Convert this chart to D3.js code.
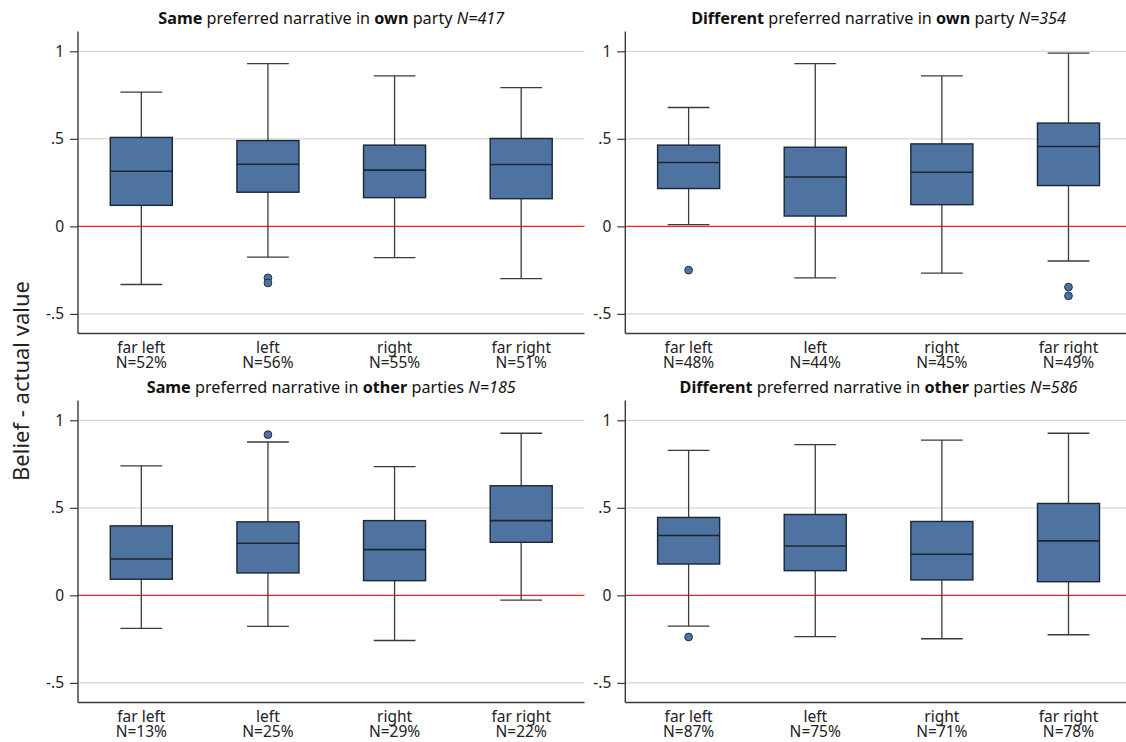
<!DOCTYPE html>
<html>
<head>
<meta charset="utf-8">
<script src="https://cdn.jsdelivr.net/npm/d3@7"></script>
<style>
  html, body { margin: 0; padding: 0; background: #fff; }
  svg { display: block; font-family: "Noto Sans", "Open Sans", sans-serif; }
</style>
</head>
<body>
<svg id="chart" width="1126" height="742"></svg>
<script>
// Categories along the x axis of each panel
const categories = ["far left", "left", "right", "far right"];
const yTicks = [-0.5, 0, 0.5, 1];
const yTickLabels = ["-.5", "0", ".5", "1"];

// Box statistics per category: [lower whisker, Q1, median, Q3, upper whisker]
const sameOwnStats = [
  [-0.332, 0.120, 0.315, 0.508, 0.767],
  [-0.176, 0.195, 0.355, 0.490, 0.929],
  [-0.179, 0.164, 0.321, 0.464, 0.859],
  [-0.298, 0.158, 0.353, 0.502, 0.792]
];
const sameOwnOutliers = [[], [-0.294, -0.323], [], []];
const sameOwnShares = ["52%", "56%", "55%", "51%"];

const diffOwnStats = [
  [0.010, 0.216, 0.365, 0.464, 0.679],
  [-0.294, 0.059, 0.282, 0.452, 0.929],
  [-0.267, 0.124, 0.309, 0.471, 0.859],
  [-0.198, 0.233, 0.456, 0.590, 0.989]
];
const diffOwnOutliers = [[-0.250], [], [], [-0.347, -0.397]];
const diffOwnShares = ["48%", "44%", "45%", "49%"];

const sameOtherStats = [
  [-0.189, 0.092, 0.208, 0.397, 0.740],
  [-0.177, 0.128, 0.298, 0.420, 0.876],
  [-0.258, 0.084, 0.261, 0.427, 0.735],
  [-0.027, 0.303, 0.427, 0.626, 0.926]
];
const sameOtherOutliers = [[], [0.918], [], []];
const sameOtherShares = ["13%", "25%", "29%", "22%"];

const diffOtherStats = [
  [-0.176, 0.179, 0.342, 0.445, 0.828],
  [-0.236, 0.141, 0.282, 0.462, 0.861],
  [-0.248, 0.088, 0.235, 0.422, 0.887],
  [-0.225, 0.078, 0.311, 0.525, 0.926]
];
const diffOtherOutliers = [[-0.238], [], [], []];
const diffOtherShares = ["87%", "75%", "71%", "78%"];

// Panel titles: [text, weight/style] segments
const sameOwnTitle = [["Same", "b"], [" preferred narrative in ", "n"], ["own", "b"], [" party ", "n"], ["N=417", "i"]];
const diffOwnTitle = [["Different", "b"], [" preferred narrative in ", "n"], ["own", "b"], [" party ", "n"], ["N=354", "i"]];
const sameOtherTitle = [["Same", "b"], [" preferred narrative in ", "n"], ["other", "b"], [" parties ", "n"], ["N=185", "i"]];
const diffOtherTitle = [["Different", "b"], [" preferred narrative in ", "n"], ["other", "b"], [" parties ", "n"], ["N=586", "i"]];

const yAxisTitle = "Belief - actual value";

const BOX_FILL = "#4e73a1";
const BOX_STROKE = "#1c2733";
const LINE = "#3a3a3a";
const GRID = "#d6d6d6";

const svg = d3.select("#chart");

const panelW = 506.5;
const panelH = 302;

const panels = [
  { x0: 78,    y0: 31.5,  stats: sameOwnStats,   out: sameOwnOutliers,   shares: sameOwnShares,   title: sameOwnTitle },
  { x0: 625.3, y0: 31.5,  stats: diffOwnStats,   out: diffOwnOutliers,   shares: diffOwnShares,   title: diffOwnTitle },
  { x0: 78,    y0: 400.5, stats: sameOtherStats, out: sameOtherOutliers, shares: sameOtherShares, title: sameOtherTitle },
  { x0: 625.3, y0: 400.5, stats: diffOtherStats, out: diffOtherOutliers, shares: diffOtherShares, title: diffOtherTitle }
];

panels.forEach(p => {
  const g = svg.append("g");
  const x = d3.scaleBand().domain(categories).range([p.x0, p.x0 + panelW]).padding(0);
  const y = d3.scaleLinear().domain([-0.612, 1.113]).range([p.y0 + panelH, p.y0]);
  const step = x.step();
  const boxW = step * 0.49;
  const capW = step * 0.33;
  const cx = c => x(c) + step / 2;

  // horizontal grid lines
  g.selectAll("line.grid").data(yTicks.filter(t => t !== 0)).join("line")
    .attr("x1", p.x0).attr("x2", p.x0 + panelW)
    .attr("y1", d => y(d)).attr("y2", d => y(d))
    .attr("stroke", GRID).attr("stroke-width", 1.2);

  // zero reference line
  g.append("line")
    .attr("x1", p.x0).attr("x2", p.x0 + panelW)
    .attr("y1", y(0)).attr("y2", y(0))
    .attr("stroke", "#ff2020").attr("stroke-width", 1.3);

  // y axis
  const yAxis = d3.axisLeft(y).tickValues(yTicks)
    .tickFormat((d, i) => yTickLabels[i]).tickSize(8).tickPadding(6);
  const ya = g.append("g").attr("transform", `translate(${p.x0},0)`).call(yAxis);
  ya.select(".domain").attr("d", `M0,${p.y0}V${p.y0 + panelH}`).attr("stroke", LINE).attr("stroke-width", 1.4);
  ya.selectAll(".tick line").attr("stroke", LINE).attr("stroke-width", 1.2);
  ya.selectAll(".tick text").attr("font-size", 15.5).attr("fill", "#222")
    .attr("font-family", "Noto Sans, sans-serif");

  // x axis (line plus two-line category labels)
  const xAxis = d3.axisBottom(x).tickSize(0).tickFormat("");
  const xa = g.append("g").attr("transform", `translate(0,${p.y0 + panelH})`).call(xAxis);
  xa.select(".domain").attr("d", `M${p.x0},0H${p.x0 + panelW}`).attr("stroke", LINE).attr("stroke-width", 1.4);
  const lab = xa.selectAll(".tick").append("text")
    .attr("fill", "#222").attr("font-size", 15.5).attr("text-anchor", "middle")
    .attr("font-family", "Noto Sans, sans-serif");
  lab.append("tspan").attr("x", 0).attr("y", 19.8).text(d => d);
  lab.append("tspan").attr("x", 0).attr("y", 34.8).text((d, i) => "N=" + p.shares[i]);

  // whiskers, boxes, medians and outliers
  categories.forEach((c, i) => {
    const [lo, q1, med, q3, hi] = p.stats[i];
    const cxx = cx(c);
    g.append("line").attr("x1", cxx).attr("x2", cxx).attr("y1", y(hi)).attr("y2", y(q3))
      .attr("stroke", LINE).attr("stroke-width", 1.3);
    g.append("line").attr("x1", cxx).attr("x2", cxx).attr("y1", y(q1)).attr("y2", y(lo))
      .attr("stroke", LINE).attr("stroke-width", 1.3);
    [lo, hi].forEach(v => {
      g.append("line").attr("x1", cxx - capW / 2).attr("x2", cxx + capW / 2)
        .attr("y1", y(v)).attr("y2", y(v)).attr("stroke", LINE).attr("stroke-width", 1.3);
    });
    g.append("rect")
      .attr("x", cxx - boxW / 2).attr("width", boxW)
      .attr("y", y(q3)).attr("height", y(q1) - y(q3))
      .attr("fill", BOX_FILL).attr("stroke", BOX_STROKE).attr("stroke-width", 1.4);
    g.append("line").attr("x1", cxx - boxW / 2).attr("x2", cxx + boxW / 2)
      .attr("y1", y(med)).attr("y2", y(med)).attr("stroke", BOX_STROKE).attr("stroke-width", 1.6);
    p.out[i].forEach(v => {
      g.append("circle").attr("cx", cxx).attr("cy", y(v)).attr("r", 3.9)
        .attr("fill", BOX_FILL).attr("stroke", BOX_STROKE).attr("stroke-width", 0.9);
    });
  });

  // panel title
  const t = g.append("text")
    .attr("x", p.x0 + panelW / 2).attr("y", p.y0 - 8)
    .attr("text-anchor", "middle").attr("font-size", 16.2).attr("fill", "#111");
  p.title.forEach(([txt, st]) => {
    t.append("tspan").text(txt)
      .attr("font-weight", st === "b" ? 700 : 400)
      .attr("font-style", st === "i" ? "italic" : "normal");
  });
});

// shared y-axis title
svg.append("text")
  .attr("transform", "translate(29,381) rotate(-90)")
  .attr("text-anchor", "middle")
  .attr("font-size", 22).attr("fill", "#222")
  .text(yAxisTitle);
</script>
</body>
</html>
